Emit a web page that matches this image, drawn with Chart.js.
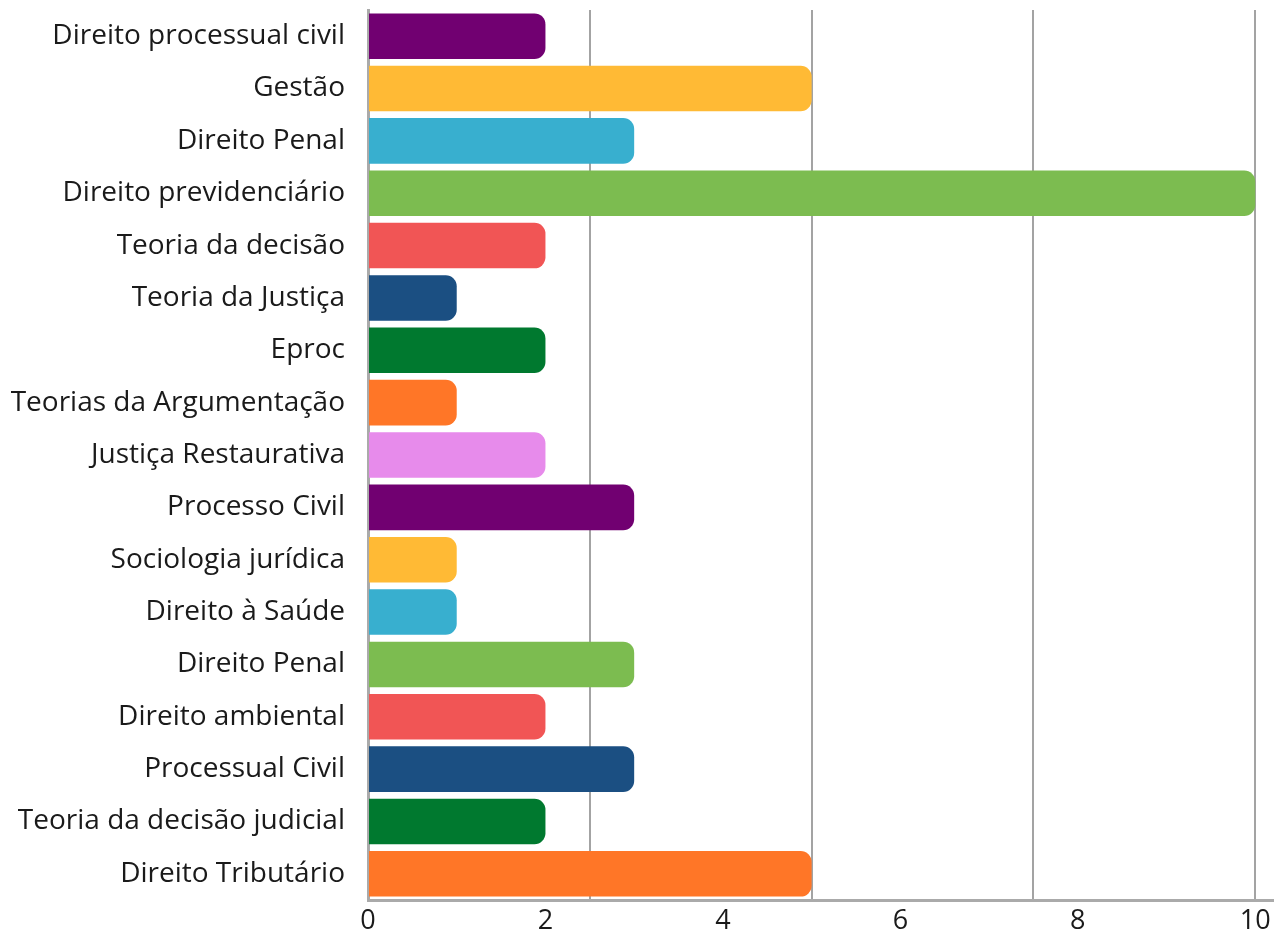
<!DOCTYPE html>
<html>
<head>
<meta charset="utf-8">
<script src="https://cdn.jsdelivr.net/npm/chart.js@4"></script>
<style>
    html, body { margin: 0; padding: 0; background: #fff; }
    #wrap { width: 1286px; height: 941px; }
</style>
</head>
<body>
<div id="wrap"><canvas id="subjectsChart"></canvas></div>
<script>
const subjects = [
    'Direito processual civil', 'Gestão', 'Direito Penal', 'Direito previdenciário',
    'Teoria da decisão', 'Teoria da Justiça', 'Eproc', 'Teorias da Argumentação',
    'Justiça Restaurativa', 'Processo Civil', 'Sociologia jurídica', 'Direito à Saúde',
    'Direito Penal', 'Direito ambiental', 'Processual Civil', 'Teoria da decisão judicial',
    'Direito Tributário'
];
const counts = [2, 5, 3, 10, 2, 1, 2, 1, 2, 3, 1, 1, 3, 2, 3, 2, 5];
const palette = ['#710071', '#FFBA35', '#38AFCF', '#7CBC50', '#F15555', '#1B4F82', '#00792F', '#FF7627', '#E78BEB'];
const labelTicks = [0, 2, 4, 6, 8, 10];
const gridTicks = [2.5, 5, 7.5, 10];

const barColors = counts.map((_, i) => palette[i % palette.length]);

function createChart() {
    const ctx = document.getElementById('subjectsChart').getContext('2d');
    new Chart(ctx, {
        type: 'bar',
        data: {
            labels: subjects,
            datasets: [{
                data: counts,
                backgroundColor: barColors,
                borderWidth: 0,
                borderRadius: 11,
                borderSkipped: 'start',
                categoryPercentage: 1,
                barPercentage: 0.87
            }]
        },
        options: {
            indexAxis: 'y',
            responsive: true,
            maintainAspectRatio: false,
            animation: false,
            layout: { padding: { top: 10, right: 13, left: 0, bottom: 0 } },
            plugins: {
                legend: { display: false },
                tooltip: { enabled: false }
            },
            scales: {
                x: {
                    min: 0,
                    max: 10.2,
                    afterFit: (scale) => {
                        scale.height = 41;
                        scale.paddingLeft = 0;
                        scale.paddingRight = 0;
                    },
                    afterBuildTicks: (scale) => {
                        const vals = new Set([...labelTicks, ...gridTicks, 10.2]);
                        scale.ticks = [...vals].sort((a, b) => a - b).map(v => ({ value: v }));
                    },
                    ticks: {
                        autoSkip: false,
                        maxRotation: 0,
                        padding: 5,
                        color: '#1a1a1a',
                        font: { family: 'Open Sans', size: 27 },
                        callback: (v) => labelTicks.includes(v) ? String(v) : ''
                    },
                    grid: {
                        drawTicks: false,
                        lineWidth: 2,
                        color: (c) => (c.tick && gridTicks.includes(c.tick.value)) ? '#a3a3a3' : 'rgba(0,0,0,0)'
                    },
                    border: { display: true, color: '#aaaaaa', width: 3 }
                },
                y: {
                    afterFit: (scale) => {
                        scale.width = 368;
                        scale.paddingTop = 0;
                        scale.paddingBottom = 0;
                    },
                    ticks: {
                        padding: 23,
                        color: '#1a1a1a',
                        font: { family: 'Open Sans', size: 28 }
                    },
                    grid: { display: false, drawTicks: false },
                    border: { display: true, color: '#aaaaaa', width: 3 }
                }
            }
        }
    });
}

createChart();
</script>
</body>
</html>
